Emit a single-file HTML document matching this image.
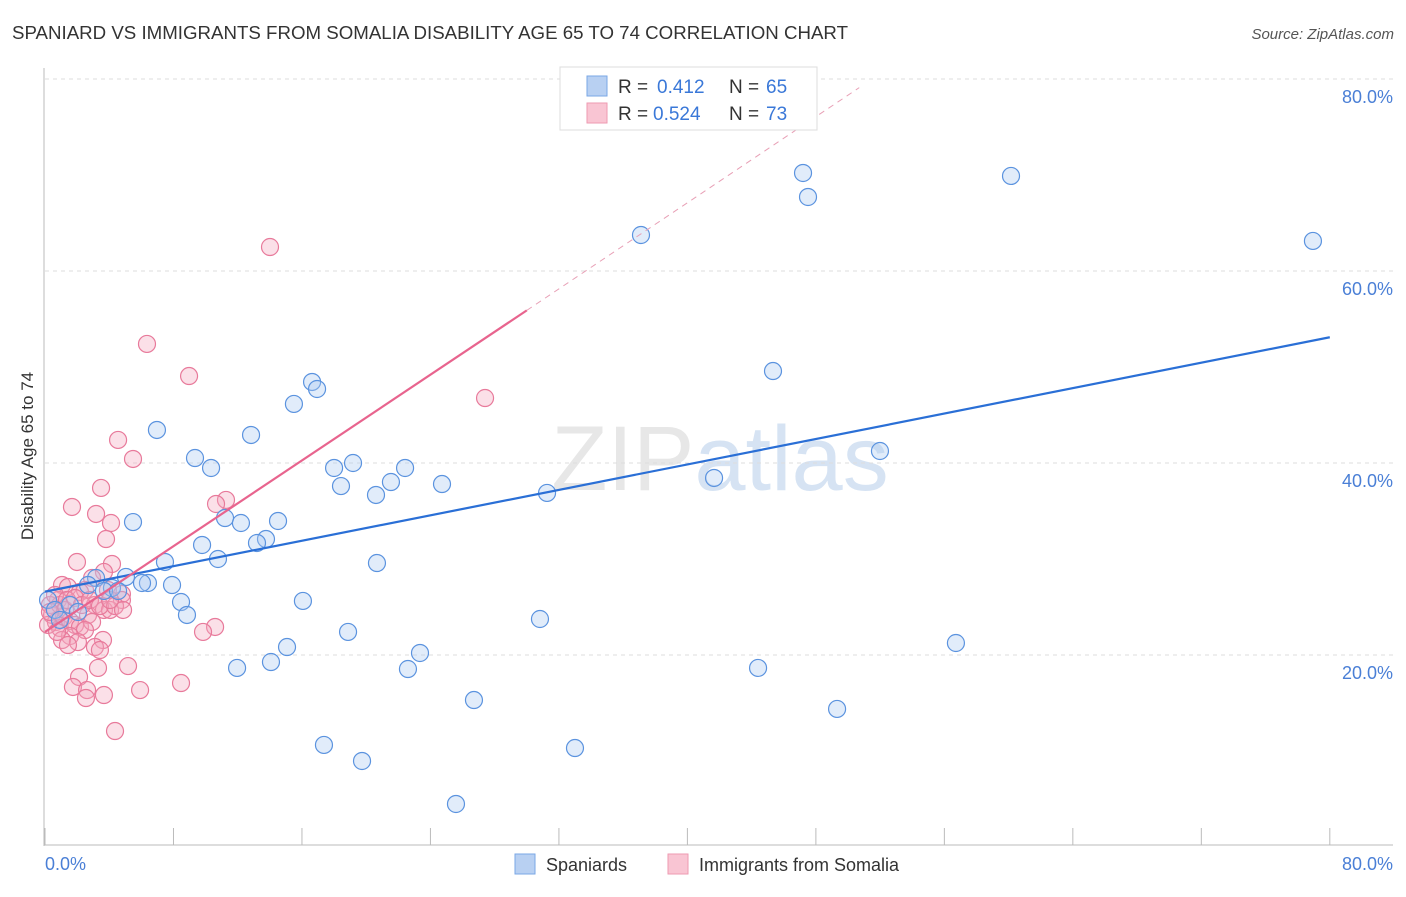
<!DOCTYPE html>
<html><head><meta charset="utf-8"><style>
body{margin:0;background:#fff;font-family:"Liberation Sans",sans-serif}
svg text{font-family:"Liberation Sans",sans-serif}
</style></head><body>
<svg id="chart" width="1406" height="892" viewBox="0 0 1406 892" xmlns="http://www.w3.org/2000/svg">
<text x="12" y="39" font-size="18" fill="#333" textLength="836" lengthAdjust="spacingAndGlyphs">SPANIARD VS IMMIGRANTS FROM SOMALIA DISABILITY AGE 65 TO 74 CORRELATION CHART</text>
<text x="1394" y="39" font-size="15" fill="#555" text-anchor="end" font-style="italic">Source: ZipAtlas.com</text>
<text x="720" y="490" font-size="92" fill="#ddd" text-anchor="middle" font-family="Liberation Serif" opacity="0.7">ZIP<tspan fill="#c5d8ef" font-family="Liberation Sans">atlas</tspan></text>
<g id="grid"></g>
<line x1="44" y1="68" x2="44" y2="846" stroke="#bbb"/>
<line x1="44" y1="845" x2="1393" y2="845" stroke="#bbb"/>
<text transform="translate(33,456) rotate(-90)" font-size="17" fill="#333" text-anchor="middle">Disability Age 65 to 74</text>
<text x="45" y="870" font-size="18" fill="#4a7fd6">0.0%</text>
<text x="1393" y="870" font-size="18" fill="#4a7fd6" text-anchor="end">80.0%</text>
<g id="pts"></g>
<g id="lines"></g>
<g>
<rect x="560" y="67" width="257" height="63" fill="#fff" stroke="#ddd"/>
<rect x="587" y="76" width="20" height="20" fill="#b8d0f2" stroke="#7aa7e6"/>
<rect x="587" y="103" width="20" height="20" fill="#f9c5d3" stroke="#ee9ab2"/>
<text x="618" y="93" font-size="19" fill="#333">R =</text>
<text x="657" y="93" font-size="19" fill="#3a78d8">0.412</text>
<text x="729" y="93" font-size="19" fill="#333">N =</text>
<text x="766" y="93" font-size="19" fill="#3a78d8">65</text>
<text x="618" y="120" font-size="19" fill="#333">R =</text>
<text x="653" y="120" font-size="19" fill="#3a78d8">0.524</text>
<text x="729" y="120" font-size="19" fill="#333">N =</text>
<text x="766" y="120" font-size="19" fill="#3a78d8">73</text>
</g>
<g>
<rect x="515" y="854" width="20" height="20" fill="#b8d0f2" stroke="#7aa7e6"/>
<text x="546" y="871" font-size="18" fill="#333">Spaniards</text>
<rect x="668" y="854" width="20" height="20" fill="#f9c5d3" stroke="#ee9ab2"/>
<text x="699" y="871" font-size="18" fill="#333">Immigrants from Somalia</text>
</g>
</svg>
<script>
const yTicks=[20,40,60,80];
const xTicks=[0,8,16,24,32,40,48,56,64,72,80];
const bluePx=[[803,173],[1011,176],[808,197],[641,235],[1313,241],[773,371],[312,382],[317,389],[294,404],[880,451],[157,430],[251,435],[195,458],[211,468],[353,463],[334,468],[405,468],[391,482],[442,484],[341,486],[376,495],[547,493],[714,478],[133,522],[225,518],[241,523],[278,521],[266,539],[257,543],[202,545],[218,559],[165,562],[377,563],[126,577],[96,578],[148,583],[142,583],[172,585],[88,585],[112,588],[104,591],[118,591],[303,601],[181,602],[187,615],[540,619],[348,632],[287,647],[956,643],[420,653],[237,668],[271,662],[408,669],[758,668],[474,700],[837,709],[324,745],[575,748],[362,761],[456,804],[48,600],[55,610],[60,620],[70,605],[78,612]];
const pinkPx=[[270,247],[147,344],[189,376],[485,398],[118,440],[133,459],[101,488],[72,507],[96,514],[111,523],[226,500],[216,504],[106,539],[77,562],[112,564],[104,572],[92,578],[62,585],[68,587],[85,590],[108,590],[122,594],[80,592],[122,600],[95,605],[104,610],[110,610],[58,600],[50,605],[52,615],[56,622],[60,628],[48,625],[64,617],[70,621],[75,625],[80,627],[88,615],[92,622],[85,630],[103,640],[70,636],[62,640],[78,642],[95,647],[100,650],[215,627],[203,632],[128,666],[98,668],[79,677],[73,687],[87,690],[104,695],[86,698],[140,690],[181,683],[115,731],[60,605],[65,610],[55,595],[67,600],[75,598],[82,605],[50,612],[57,632],[68,645],[90,600],[100,606],[115,606],[123,610],[110,600]];
const blueX=bluePx.map(p=>+((p[0]-45)/16.06).toFixed(2));
const blueY=bluePx.map(p=>+((847-p[1])/9.6).toFixed(2));
const pinkX=pinkPx.map(p=>+((p[0]-45)/16.06).toFixed(2));
const pinkY=pinkPx.map(p=>+((847-p[1])/9.6).toFixed(2));
const blueTrend=[[0,26.6],[80,53.1]];
const pinkTrend=[[0,22.4],[30,55.9]];
const pinkTrendExt=[[30,55.9],[50.7,79.1]];
const sx=v=>45+v*16.06, sy=v=>847-v*9.6;
const NS="http://www.w3.org/2000/svg";
const grid=document.getElementById('grid');
yTicks.forEach(t=>{
 const l=document.createElementNS(NS,'line');
 
 
 l.setAttribute('x1',45);l.setAttribute('x2',1393);l.setAttribute('y1',sy(t));l.setAttribute('y2',sy(t));
 l.setAttribute('stroke','#ddd');l.setAttribute('stroke-dasharray','4,4');grid.appendChild(l);
 const tx=document.createElementNS(NS,'text');
 
 
 tx.setAttribute('x',1393);tx.setAttribute('y',sy(t)+24);tx.setAttribute('text-anchor','end');
 tx.setAttribute('font-size','18');tx.setAttribute('fill','#4a7fd6');tx.textContent=t.toFixed(1)+'%';grid.appendChild(tx);
});
xTicks.forEach(t=>{
 const l=document.createElementNS(NS,'line');
 
 
 l.setAttribute('x1',sx(t));l.setAttribute('x2',sx(t));l.setAttribute('y1',828);l.setAttribute('y2',845);
 l.setAttribute('stroke','#bbb');grid.appendChild(l);
});
const pts=document.getElementById('pts');
function dots(xs,ys,fill,stroke,name){
 xs.forEach((x,i)=>{
  const c=document.createElementNS(NS,'circle');
  
  
  c.setAttribute('cx',sx(x));c.setAttribute('cy',sy(ys[i]));c.setAttribute('r',8.5);
  c.setAttribute('fill',fill);c.setAttribute('fill-opacity','0.35');c.setAttribute('stroke',stroke);c.setAttribute('stroke-width','1.2');
  pts.appendChild(c);
 });
}
dots(pinkX,pinkY,'#f4a6bd','#e87a9b','somalia-point');
dots(blueX,blueY,'#a9c8f0','#5b93df','spaniard-point');
const lines=document.getElementById('lines');
function ln(a,color,w,dash,name){
 const l=document.createElementNS(NS,'line');
 
 
 l.setAttribute('x1',sx(a[0][0]));l.setAttribute('y1',sy(a[0][1]));l.setAttribute('x2',sx(a[1][0]));l.setAttribute('y2',sy(a[1][1]));
 l.setAttribute('stroke',color);l.setAttribute('stroke-width',w);if(dash)l.setAttribute('stroke-dasharray',dash);
 lines.appendChild(l);
}
ln(blueTrend,'#2a6fd6',2.2,null,'spaniard-trendline');
ln(pinkTrend,'#e8648e',2.2,null,'somalia-trendline');
ln(pinkTrendExt,'#e8a0b6',1,'6,5','somalia-trendline-extension');
</script>
</body></html>
